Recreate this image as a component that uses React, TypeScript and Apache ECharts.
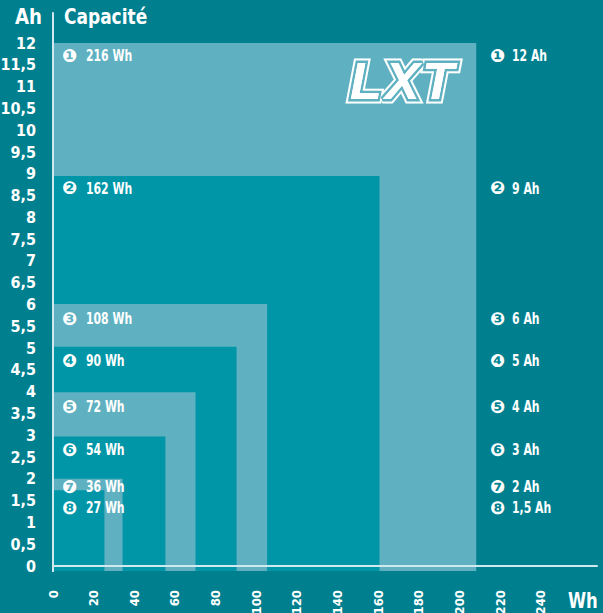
import React, { useEffect, useRef } from "react";
import * as echarts from "echarts";

// Labels (nominal values)
const energyWh = [216, 162, 108, 90, 72, 54, 36, 27];
const capacityAh = ["12", "9", "6", "5", "4", "3", "2", "1,5"];
const markers = ["❶", "❷", "❸", "❹", "❺", "❻", "❼", "❽"];
// Drawn extents of each block
const blockWh = [208.2, 160.6, 105.3, 90.3, 70.1, 55.3, 34.2, 25.3];
const blockAh = [12, 8.95, 6.01, 5.03, 3.99, 2.97, 2.0, 1.74];
// Axis ticks
const xTicks = [0, 20, 40, 60, 80, 100, 120, 140, 160, 180, 200, 220, 240];

const BG = "#00808f";
const DARK = "#0096a7";
const LIGHT = "#5fb1c1";
const AXIS = "#cfe9ee";
const FONT = "'Liberation Sans Narrow', 'DejaVu Sans Condensed', Roboto, sans-serif";
const CFONT = "'DejaVu Sans', sans-serif";
const labelOffsets = [12, 12, 14, 14, 14, 13, 8, 17];
const SX = 0.78;

export default function App() {
  const ref = useRef<HTMLDivElement>(null);
  useEffect(() => {
    if (!ref.current) return;
    const chart = echarts.init(ref.current, undefined, { renderer: "svg" });
    const lastTick = xTicks[xTicks.length - 1];
    const head = (x: number, y: number, text: string, align: string, sx: number) => ({
      type: "text",
      x,
      y,
      scaleX: sx,
      style: {
        text,
        fill: "#fff",
        fontFamily: FONT,
        fontWeight: "bold",
        fontSize: 22,
        align,
        verticalAlign: "middle",
      },
    });
    const option: any = {
      animation: false,
      backgroundColor: BG,
      grid: { left: 53, width: 544, top: 13, height: 553, containLabel: false, outerBoundsMode: "none" },
      xAxis: {
        type: "value",
        min: 0,
        max: 267.6,
        interval: 20,
        offset: 5,
        z: 10,
        axisLine: { show: true, lineStyle: { color: AXIS, width: 2 } },
        axisTick: { show: false },
        splitLine: { show: false },
        axisLabel: {
          rotate: 90,
          margin: 19,
          color: "#fff",
          fontWeight: "bold",
          fontSize: 13,
          fontFamily: FONT,
          formatter: (v: number) => (v > lastTick ? "" : String(v)),
        },
      },
      yAxis: {
        type: "value",
        min: 0,
        max: 12.69,
        interval: 0.5,
        z: 10,
        axisLine: { show: true, lineStyle: { color: AXIS, width: 2 } },
        axisTick: { show: false },
        splitLine: { show: false },
        axisLabel: {
          margin: 17,
          color: "#fff",
          fontWeight: "bold",
          fontSize: 16,
          fontFamily: FONT,
          formatter: (v: number) => (v > 12 ? "" : String(v).replace(".", ",")),
        },
      },
      series: [
        {
          type: "custom",
          clip: false,
          encode: { x: 0, y: 1 },
          data: blockWh.map((w, i) => [w, blockAh[i], i]),
          renderItem: (params: any, api: any) => {
            const i = params.dataIndex;
            const o = api.coord([0, 0]);
            const c = api.coord([api.value(0), api.value(1)]);
            const bottom = o[1] + 5;
            const ly = c[1] + labelOffsets[i];
            const rx = api.coord([215, 0])[0];
            const txt = (x: number, text: string, font: string, size: number, sx: number) => ({
              type: "text",
              x,
              y: ly,
              z2: 20,
              scaleX: sx,
              style: {
                text,
                fill: "#fff",
                fontFamily: font,
                fontWeight: "bold",
                fontSize: size,
                lineHeight: 14,
                align: "left",
                verticalAlign: "middle",
              },
            });
            return {
              type: "group",
              children: [
                {
                  type: "rect",
                  shape: { x: o[0], y: c[1], width: c[0] - o[0], height: bottom - c[1] },
                  style: { fill: i % 2 === 0 ? LIGHT : DARK },
                },
                txt(o[0] + 9, markers[i], CFONT, 18, 1),
                txt(o[0] + 33, energyWh[i] + " Wh", FONT, 15.5, SX),
                txt(rx, markers[i], CFONT, 18, 1),
                txt(rx + 22, capacityAh[i] + " Ah", FONT, 15.5, SX),
              ],
            };
          },
        },
      ],
      graphic: [
        { type: "line", z: 100, shape: { x1: 53, y1: 564, x2: 53, y2: 572 }, style: { stroke: AXIS, lineWidth: 2 } },
        head(42, 16, "Ah", "right", 0.92),
        head(64, 16, "Capacité", "left", 0.86),
        head(568, 600, "Wh", "left", 0.83),
        // LXT logo
        ...[
          { stroke: "#fff", w: 9 },
          { stroke: LIGHT, w: 5 },
          { stroke: null, w: 0 },
        ].flatMap((layer) =>
          [
            { ch: "L", x: 350 },
            { ch: "X", x: 385 },
            { ch: "T", x: 422 },
          ].map((l) => ({
            type: "text",
            x: l.x,
            y: 81,
            z: 50,
            style: {
              text: l.ch,
              fill: "#fff",
              stroke: layer.stroke || undefined,
              lineWidth: layer.w,
              fontFamily: "'Liberation Sans', sans-serif",
              fontStyle: "italic",
              fontWeight: 900,
              fontSize: 52,
              align: "left",
              verticalAlign: "middle",
            },
          }))
        ),
      ],
    };
    chart.setOption(option);
    return () => chart.dispose();
  }, []);
  return (
    <div
      ref={ref}
      style={{ position: "absolute", left: 0, top: 0, width: 603, height: 613 }}
    />
  );
}
